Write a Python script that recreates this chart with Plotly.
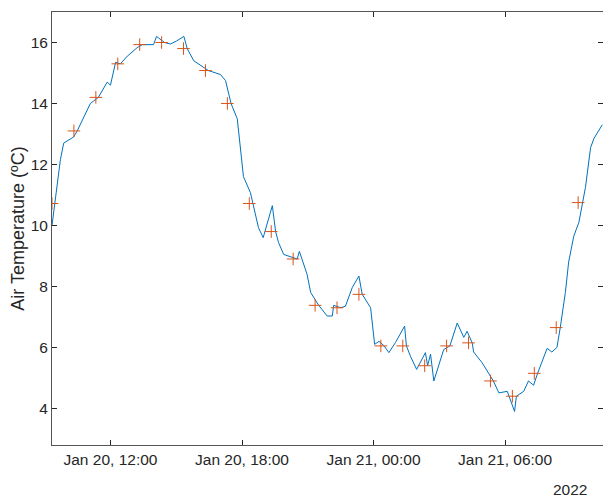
import plotly.graph_objects as go

# line samples
line_times = [
    "2022-01-20 09:20", "2022-01-20 09:43", "2022-01-20 09:52", "2022-01-20 10:19", "2022-01-20 10:29",
    "2022-01-20 11:05", "2022-01-20 11:27", "2022-01-20 11:51", "2022-01-20 12:00", "2022-01-20 12:14",
    "2022-01-20 12:27", "2022-01-20 12:46", "2022-01-20 13:13", "2022-01-20 13:27", "2022-01-20 13:58",
    "2022-01-20 14:06", "2022-01-20 14:28", "2022-01-20 14:44", "2022-01-20 15:01", "2022-01-20 15:21",
    "2022-01-20 15:30", "2022-01-20 15:48", "2022-01-20 16:28", "2022-01-20 17:01", "2022-01-20 17:15",
    "2022-01-20 17:30", "2022-01-20 17:47", "2022-01-20 18:04", "2022-01-20 18:23", "2022-01-20 18:30",
    "2022-01-20 18:45", "2022-01-20 18:58", "2022-01-20 19:23", "2022-01-20 19:32", "2022-01-20 19:40",
    "2022-01-20 19:54", "2022-01-20 20:31", "2022-01-20 20:37", "2022-01-20 20:58", "2022-01-20 21:08",
    "2022-01-20 21:30", "2022-01-20 21:53", "2022-01-20 22:07", "2022-01-20 22:11", "2022-01-20 22:30",
    "2022-01-20 22:43", "2022-01-20 23:02", "2022-01-20 23:20", "2022-01-20 23:29", "2022-01-20 23:52",
    "2022-01-21 00:03", "2022-01-21 00:15", "2022-01-21 00:29", "2022-01-21 00:42", "2022-01-21 01:00",
    "2022-01-21 01:25", "2022-01-21 01:30", "2022-01-21 01:41", "2022-01-21 01:58", "2022-01-21 02:22",
    "2022-01-21 02:28", "2022-01-21 02:36", "2022-01-21 02:45", "2022-01-21 03:12", "2022-01-21 03:29",
    "2022-01-21 03:49", "2022-01-21 04:07", "2022-01-21 04:16", "2022-01-21 04:30", "2022-01-21 04:34",
    "2022-01-21 04:57", "2022-01-21 05:28", "2022-01-21 05:43", "2022-01-21 06:06", "2022-01-21 06:26",
    "2022-01-21 06:31", "2022-01-21 06:51", "2022-01-21 07:04", "2022-01-21 07:18", "2022-01-21 07:29",
    "2022-01-21 07:55", "2022-01-21 08:08", "2022-01-21 08:22", "2022-01-21 08:31", "2022-01-21 08:45",
    "2022-01-21 08:54", "2022-01-21 09:08", "2022-01-21 09:22", "2022-01-21 09:31", "2022-01-21 09:40",
    "2022-01-21 09:54", "2022-01-21 10:03", "2022-01-21 10:26",
]
line_temp = [
    10.0, 12.16, 12.7, 12.9, 13.1,
    14.0, 14.2, 14.7, 14.6, 15.35,
    15.3, 15.55, 15.83, 15.93, 15.93,
    16.2, 16.0, 15.95, 16.05, 16.2,
    15.8, 15.4, 15.08, 14.95, 14.75,
    14.0, 13.5, 11.6, 11.08, 10.72,
    9.93, 9.6, 10.65, 9.8, 9.44,
    9.05, 8.9, 9.15, 8.4, 7.8,
    7.38, 7.03, 7.03, 7.38, 7.3,
    7.35, 7.97, 8.34, 7.74, 7.3,
    6.1, 6.2, 6.05, 5.83, 6.16,
    6.7, 6.05, 5.71, 5.28, 5.83,
    5.4, 5.78, 4.9, 5.93, 6.05,
    6.8, 6.33, 6.53, 6.15, 5.85,
    5.5, 4.9, 4.51, 4.56, 3.9,
    4.4, 4.56, 4.9, 4.76, 5.15,
    5.97, 5.85, 6.0, 6.65, 7.8,
    8.8, 9.65, 10.1, 10.75, 11.25,
    12.55, 12.85, 13.3,
]

# hourly samples shown as markers
hourly_times = [
    "2022-01-20 09:20", "2022-01-20 10:20", "2022-01-20 11:20", "2022-01-20 12:20", "2022-01-20 13:20",
    "2022-01-20 14:20", "2022-01-20 15:20", "2022-01-20 16:20", "2022-01-20 17:20", "2022-01-20 18:20",
    "2022-01-20 19:20", "2022-01-20 20:20", "2022-01-20 21:20", "2022-01-20 22:20", "2022-01-20 23:20",
    "2022-01-21 00:20", "2022-01-21 01:20", "2022-01-21 02:20", "2022-01-21 03:20", "2022-01-21 04:20",
    "2022-01-21 05:20", "2022-01-21 06:20", "2022-01-21 07:20", "2022-01-21 08:20", "2022-01-21 09:20",
]
hourly_temp = [
    10.72, 13.1, 14.2, 15.3, 15.93, 16.0, 15.8, 15.08, 14.0, 10.72,
    9.8, 8.9, 7.38, 7.3, 7.74, 6.05, 6.05, 5.4, 6.05, 6.15,
    4.9, 4.4, 5.15, 6.65, 10.75,
]

tick_vals = ["2022-01-20 12:00", "2022-01-20 18:00", "2022-01-21 00:00", "2022-01-21 06:00"]
tick_text = ["Jan 20, 12:00", "Jan 20, 18:00", "Jan 21, 00:00", "Jan 21, 06:00"]

fig = go.Figure()
fig.add_trace(go.Scatter(x=line_times, y=line_temp, mode="lines",
                         line=dict(color="#0072BD", width=1)))
fig.add_trace(go.Scatter(x=hourly_times, y=hourly_temp, mode="markers",
                         marker=dict(symbol="cross-thin", size=9,
                                     line=dict(color="#D95319", width=1))))

axis_style = dict(showline=True, linecolor="#555555", linewidth=1, mirror="ticks",
                  ticks="inside", ticklen=5, tickcolor="#262626", showgrid=False,
                  zeroline=False, automargin=False,
                  tickfont=dict(size=15.5, color="#262626"))
fig.update_xaxes(range=["2022-01-20 09:20", "2022-01-21 10:28"],
                 tickvals=tick_vals, ticktext=tick_text, **axis_style)
fig.update_yaxes(range=[2.8, 17], tickvals=[4, 6, 8, 10, 12, 14, 16],
                 title=dict(text="Air Temperature (ºC)", font=dict(size=18, color="#262626"),
                            standoff=4),
                 **axis_style)
fig.add_annotation(text="2022", xref="paper", yref="paper", x=1, y=0, yshift=-34,
                   xshift=-14, xanchor="right", yanchor="top", showarrow=False,
                   font=dict(size=15.5, color="#262626"))
# page body adds an 8px offset, so the figure is sized to fit the window
fig.update_layout(width=603, height=495, showlegend=False,
                  margin=dict(l=44, r=8, t=4, b=58),
                  plot_bgcolor="white", paper_bgcolor="white",
                  font=dict(family="Liberation Sans, Arial, sans-serif"))
fig.write_html("out.html")
